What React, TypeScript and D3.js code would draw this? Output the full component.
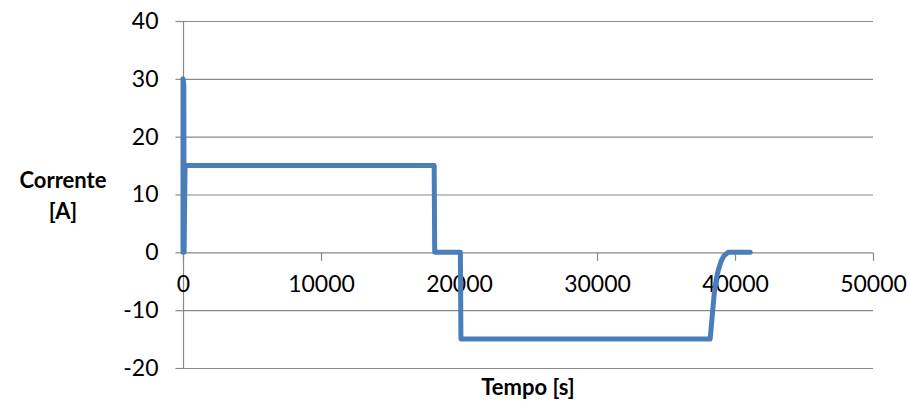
import { useRef, useEffect } from 'react'
import * as d3 from 'd3'

// time [s] and current [A]
const timeValues = [0, 0, 60, 80, 150, 18200, 18240, 20100, 20140, 38200, 38350, 38500, 38650, 38800, 39000, 39200, 39500, 41100]
const currentValues = [0, 30, 29, 0, 15, 15, 0, 0, -15, -15, -11, -7, -4.5, -3, -1.5, -0.6, 0, 0]

const xTicks = [0, 10000, 20000, 30000, 40000, 50000]
const yTicks = [-20, -10, 0, 10, 20, 30, 40]

const W = 909
const H = 402

export default function App() {
  const svgRef = useRef<SVGSVGElement>(null)

  useEffect(() => {
    document.body.style.margin = '0'
    if (!svgRef.current) return
    const svg = d3.select(svgRef.current)
    svg.selectAll('*').remove()

    const margin = { top: 21, right: 36, bottom: 34, left: 183 }
    const width = W - margin.left - margin.right
    const height = H - margin.top - margin.bottom

    const x = d3.scaleLinear().domain([0, 50000]).range([0, width])
    const y = d3.scaleLinear().domain([-20, 40]).range([height, 0])

    const g = svg.append('g').attr('transform', `translate(${margin.left},${margin.top})`)
    const font = 'Lato, "Open Sans", sans-serif'
    const fmt = (d: d3.NumberValue) => String(d)

    // horizontal grid
    g.append('g')
      .selectAll('line')
      .data(yTicks)
      .join('line')
      .attr('x1', 0)
      .attr('x2', width)
      .attr('y1', (d) => y(d) + 0.5)
      .attr('y2', (d) => y(d) + 0.5)
      .attr('stroke', '#898989')
      .attr('stroke-width', 1.2)

    // y axis
    g.append('g')
      .attr('transform', 'translate(0.5,0)')
      .call(d3.axisLeft(y).tickValues(yTicks).tickSize(8).tickPadding(17).tickFormat(fmt))
      .call((a) => {
        a.select('.domain').attr('stroke', '#898989').attr('stroke-width', 1.2).attr('d', `M0,0V${height}`)
        a.selectAll('.tick line').attr('stroke', '#898989').attr('stroke-width', 1.2)
        a.selectAll('.tick text').attr('fill', '#000').attr('font-size', '23px').attr('font-family', font)
      })

    // x axis crossing at 0
    g.append('g')
      .attr('transform', `translate(0,${y(0) + 0.5})`)
      .call(d3.axisBottom(x).tickValues(xTicks).tickSize(8).tickPadding(15).tickFormat(fmt))
      .call((a) => {
        a.select('.domain').remove()
        a.selectAll('.tick line').attr('stroke', '#898989').attr('stroke-width', 1.2)
        a.selectAll('.tick text').attr('fill', '#000').attr('font-size', '23px').attr('font-family', font)
      })

    // series
    const pts = timeValues.map((t, i) => [t, currentValues[i]] as [number, number])
    const line = d3
      .line<[number, number]>()
      .x((d) => x(d[0]))
      .y((d) => y(d[1]))

    g.append('path')
      .datum(pts)
      .attr('fill', 'none')
      .attr('stroke', '#4a7ebb')
      .attr('stroke-width', 5)
      .attr('stroke-linejoin', 'round')
      .attr('stroke-linecap', 'round')
      .attr('d', line)

    // axis titles
    const yt = svg
      .append('text')
      .attr('text-anchor', 'middle')
      .attr('font-family', font)
      .attr('font-weight', 'bold')
      .attr('font-size', '22px')
      .attr('fill', '#000')
    yt.append('tspan').attr('x', 63).attr('y', 188).text('Corrente')
    yt.append('tspan').attr('x', 63).attr('y', 219).text('[A]')

    svg
      .append('text')
      .attr('x', margin.left + width / 2)
      .attr('y', 395)
      .attr('text-anchor', 'middle')
      .attr('font-family', font)
      .attr('font-weight', 'bold')
      .attr('font-size', '22px')
      .attr('fill', '#000')
      .text('Tempo [s]')
  }, [])

  return <svg ref={svgRef} width={W} height={H} style={{ display: 'block', background: '#fff' }} />
}
